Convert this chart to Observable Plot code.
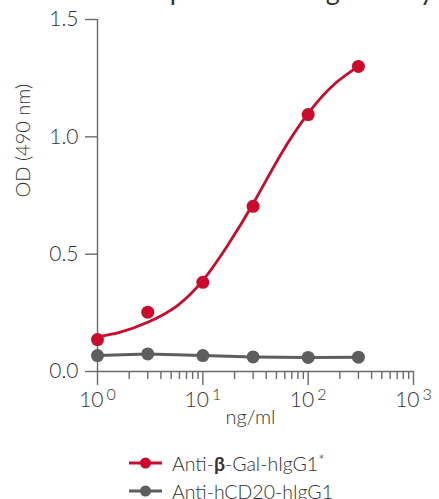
<!DOCTYPE html>
<html><head><meta charset="utf-8">
<script src="https://cdn.jsdelivr.net/npm/d3@7"></script>
<script src="https://cdn.jsdelivr.net/npm/@observablehq/plot@0.6"></script>
<style>
body{margin:0;background:#fff;font-family:Lato,sans-serif;}
#wrap{position:relative;width:439px;height:499px;overflow:hidden;background:#fff;}
#title{position:absolute;left:156px;top:-24.5px;font-size:27px;line-height:1;color:#333;white-space:nowrap;font-weight:400;word-spacing:5px;letter-spacing:-0.5px;}
#chart{position:absolute;left:0;top:0;}
#legend{position:absolute;left:129px;top:449px;font-size:19.5px;color:#333;font-weight:300;}
.row{display:flex;align-items:center;height:28px;white-space:nowrap;}
.row svg{margin-right:10px;}
</style></head>
<body>
<div id="wrap">
  <div id="title">Specific binding activity</div>
  <div id="chart"></div>
  <div id="legend"></div>
</div>
<script>
// ---- data ----
const concentrations = [1, 3, 10, 30, 100, 300];
const betaGalOD = [0.136, 0.253, 0.380, 0.704, 1.095, 1.300];
const cd20OD = [0.068, 0.075, 0.068, 0.062, 0.060, 0.061];
// fitted curve
const fitX = [1, 1.65, 3, 5.7, 10, 17, 30, 55, 100, 175, 300];
const fitY = [0.148, 0.168, 0.210, 0.280, 0.388, 0.534, 0.715, 0.925, 1.100, 1.222, 1.300];
const yTicks = [0, 0.5, 1.0, 1.5];
const xMajorTicks = [1, 10, 100, 1000];
const xMinorTicks = [2,3,4,5,6,7,8,9,20,30,40,50,60,70,80,90,200,300,400,500,600,700,800,900];
const seriesNames = ["Anti-β-Gal-hIgG1*", "Anti-hCD20-hIgG1"];
const xLabel = "ng/ml";
const yLabel = "OD (490 nm)";

const RED = "#cc0a2c", GREY = "#5e5e5e", AX = "#6a6a6a";

const betaData = concentrations.map((c, i) => ({x: c, y: betaGalOD[i]}));
const cd20Data = concentrations.map((c, i) => ({x: c, y: cd20OD[i]}));
const fitData = fitX.map((c, i) => ({x: c, y: fitY[i]}));

const chart = Plot.plot({
  width: 439, height: 445,
  marginLeft: 97, marginRight: 26, marginTop: 19, marginBottom: 74,
  style: {fontFamily: "Lato, sans-serif", fontSize: "21px", color: "#333", background: "transparent", overflow: "visible", fontWeight: 300},
  x: {type: "log", domain: [1, 1000]},
  y: {domain: [0, 1.5]},
  marks: [
    Plot.axisY({ticks: yTicks, tickFormat: d => d.toFixed(1), tickSize: 12, tickPadding: 7, stroke: AX, strokeWidth: 1.4, strokeOpacity: 1, fill: "#333", label: null}),
    Plot.axisX({ticks: xMinorTicks, tickSize: 8, text: null, stroke: AX, strokeWidth: 1.4, strokeOpacity: 1, label: null}),
    Plot.axisX({ticks: xMajorTicks, tickSize: 14, tickPadding: 7, tickFormat: d => "10^" + Math.round(Math.log10(d)), stroke: AX, strokeWidth: 1.4, strokeOpacity: 1, fill: "#333", label: null}),
    Plot.ruleX([1], {stroke: AX, strokeWidth: 1.4}),
    Plot.ruleY([0], {stroke: AX, strokeWidth: 1.4}),
    Plot.line(cd20Data, {x: "x", y: "y", stroke: GREY, strokeWidth: 3}),
    Plot.line(fitData, {x: "x", y: "y", stroke: RED, strokeWidth: 2.8, curve: "natural"}),
    Plot.dot(betaData, {x: "x", y: "y", r: 6.5, fill: RED}),
    Plot.dot(cd20Data, {x: "x", y: "y", r: 6.5, fill: GREY}),
    Plot.text([xLabel], {frameAnchor: "bottom", dy: 52, dx: -5, fontSize: 20, fill: "#333"}),
    Plot.text([yLabel], {frameAnchor: "left", rotate: -90, dx: -74, dy: 2, fontSize: 20, fill: "#333"})
  ]
});
document.getElementById("chart").appendChild(chart);

// superscript exponents on x tick labels
chart.querySelectorAll('g[aria-label="x-axis tick label"] text').forEach(t => {
  const s = t.textContent;
  if (s.includes("^")) {
    const [b, e] = s.split("^");
    t.textContent = "";
    const ts1 = document.createElementNS("http://www.w3.org/2000/svg", "tspan");
    ts1.textContent = b;
    const ts2 = document.createElementNS("http://www.w3.org/2000/svg", "tspan");
    ts2.textContent = e;
    ts2.setAttribute("dy", "-7");
    ts2.setAttribute("dx", "3");
    ts2.setAttribute("font-size", "16");
    t.appendChild(ts1); t.appendChild(ts2);
  }
});

// legend
const legend = document.getElementById("legend");
const colors = [RED, GREY];
seriesNames.forEach((name, i) => {
  const row = document.createElement("div");
  row.className = "row";
  const sw = `<svg width="33" height="14"><line x1="0" x2="33" y1="7" y2="7" stroke="${colors[i]}" stroke-width="3"/><circle cx="16.5" cy="7" r="5.5" fill="${colors[i]}"/></svg>`;
  const label = name.replace("β", "<b style='font-weight:700'>β</b>").replace("*", "<span style='font-size:15px;position:relative;top:-5px'>*</span>");
  row.innerHTML = sw + "<span>" + label + "</span>";
  legend.appendChild(row);
});
</script>
</body></html>
